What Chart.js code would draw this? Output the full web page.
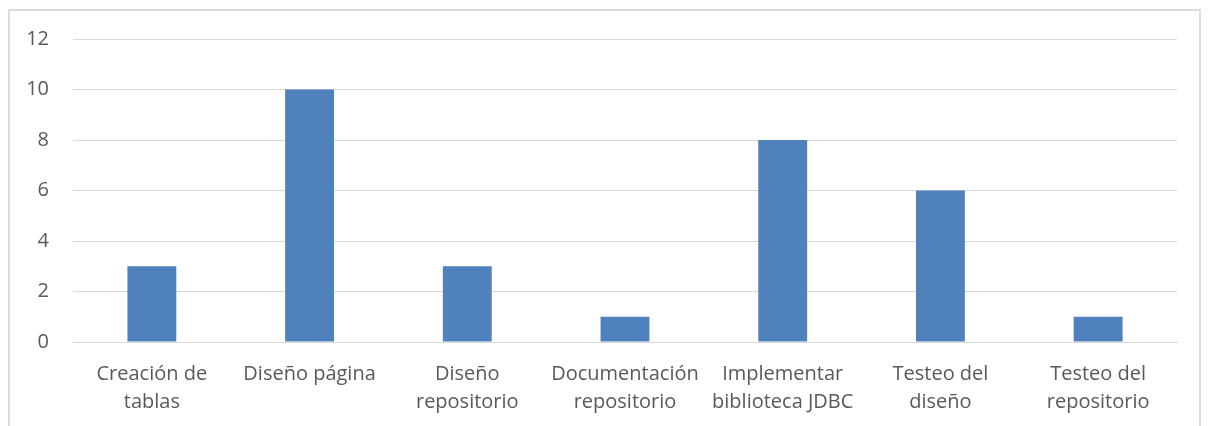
<!DOCTYPE html>
<html>
<head>
<meta charset="utf-8">
<script src="https://cdn.jsdelivr.net/npm/chart.js@4/dist/chart.umd.min.js"></script>
<style>
  html, body { margin: 0; padding: 0; background: #ffffff; overflow: hidden; }
  #wrap { position: relative; width: 1208px; height: 426px; }
  #frame { position: absolute; left: 8px; top: 9px; width: 1193px; height: 440px;
           border: 2px solid #dcdcdc; box-sizing: border-box; }
  canvas { position: absolute; left: 0; top: 0; }
</style>
</head>
<body>
<div id="wrap">
  <div id="frame"></div>
  <canvas id="chart" width="1208" height="426"></canvas>
</div>
<script>
// Tareas y horas dedicadas
const categories = [
  ['Creación de', 'tablas'],
  'Diseño página',
  ['Diseño', 'repositorio'],
  ['Documentación', 'repositorio'],
  ['Implementar', 'biblioteca JDBC'],
  ['Testeo del', 'diseño'],
  ['Testeo del', 'repositorio']
];
const horas = [3, 10, 3, 1, 8, 6, 1];
const yTicks = [0, 2, 4, 6, 8, 10, 12];

const textColor = '#595959';
const gridColor = '#d9d9d9';
const fontFamily = '"Open Sans", "Liberation Sans", sans-serif';

new Chart(document.getElementById('chart'), {
  type: 'bar',
  data: {
    labels: categories,
    datasets: [{
      data: horas,
      backgroundColor: '#4f81bd',
      borderWidth: 0,
      categoryPercentage: 1,
      barPercentage: 0.31
    }]
  },
  options: {
    responsive: false,
    animation: false,
    events: [],
    layout: { padding: { top: 39, right: 31, left: 0, bottom: 0 } },
    plugins: { legend: { display: false }, tooltip: { enabled: false } },
    scales: {
      x: {
        grid: { display: false, drawTicks: false },
        border: { display: true, color: gridColor, width: 1 },
        ticks: {
          color: textColor,
          font: { family: fontFamily, size: 20, lineHeight: 1.4 },
          padding: 18,
          maxRotation: 0,
          autoSkip: false
        },
        afterFit: (s) => { s.height = 84; }
      },
      y: {
        min: 0,
        max: 12,
        afterBuildTicks: (s) => { s.ticks = yTicks.map(v => ({ value: v })); },
        grid: { color: gridColor, lineWidth: 1, drawTicks: false },
        border: { display: false },
        ticks: {
          color: textColor,
          font: { family: fontFamily, size: 20 },
          padding: 24
        },
        afterFit: (s) => { s.width = 73; }
      }
    }
  }
});
</script>
</body>
</html>
